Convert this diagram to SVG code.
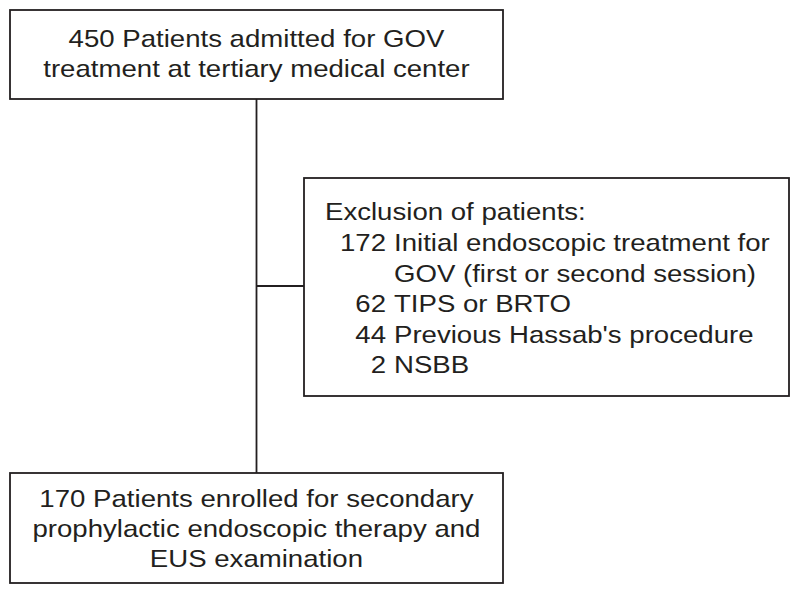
<svg xmlns="http://www.w3.org/2000/svg" width="799" height="594" viewBox="0 0 799 594">
<style>
.box{fill:#fff;stroke:#231f20;stroke-width:1.8}
.ln{fill:none;stroke:#231f20;stroke-width:1.8}
text{font-family:"Liberation Sans",Arial,sans-serif;font-size:24px;fill:#231f20}
.c{text-anchor:middle}
.r{text-anchor:end}
</style>
<rect width="799" height="594" fill="#fff"/>
<g id="connectors">
<line class="ln" x1="256.5" y1="99" x2="256.5" y2="473"/>
<line class="ln" x1="256.5" y1="286" x2="304" y2="286"/>
</g>
<g id="admitted">
<rect class="box" x="10" y="10" width="493" height="89"/>
<g transform="scale(1.15 1)">
<text class="c" x="223" y="47">450 Patients admitted for GOV</text>
<text class="c" x="223" y="77">treatment at tertiary medical center</text>
</g>
</g>
<g id="exclusion">
<rect class="box" x="304" y="178" width="485" height="218"/>
<g transform="scale(1.15 1)">
<text x="282.6" y="220">Exclusion of patients:</text>
<text class="r" x="335.7" y="251">172</text>
<text x="342.6" y="251">Initial endoscopic treatment for</text>
<text x="342.6" y="282">GOV (first or second session)</text>
<text class="r" x="335.7" y="312">62</text>
<text x="342.6" y="312">TIPS or BRTO</text>
<text class="r" x="335.7" y="343">44</text>
<text x="342.6" y="343">Previous Hassab's procedure</text>
<text class="r" x="335.7" y="373">2</text>
<text x="342.6" y="373">NSBB</text>
</g>
</g>
<g id="enrolled">
<rect class="box" x="10" y="473" width="493" height="110"/>
<g transform="scale(1.15 1)">
<text class="c" x="223" y="507">170 Patients enrolled for secondary</text>
<text class="c" x="223" y="537">prophylactic endoscopic therapy and</text>
<text class="c" x="223" y="567">EUS examination</text>
</g>
</g>
</svg>
